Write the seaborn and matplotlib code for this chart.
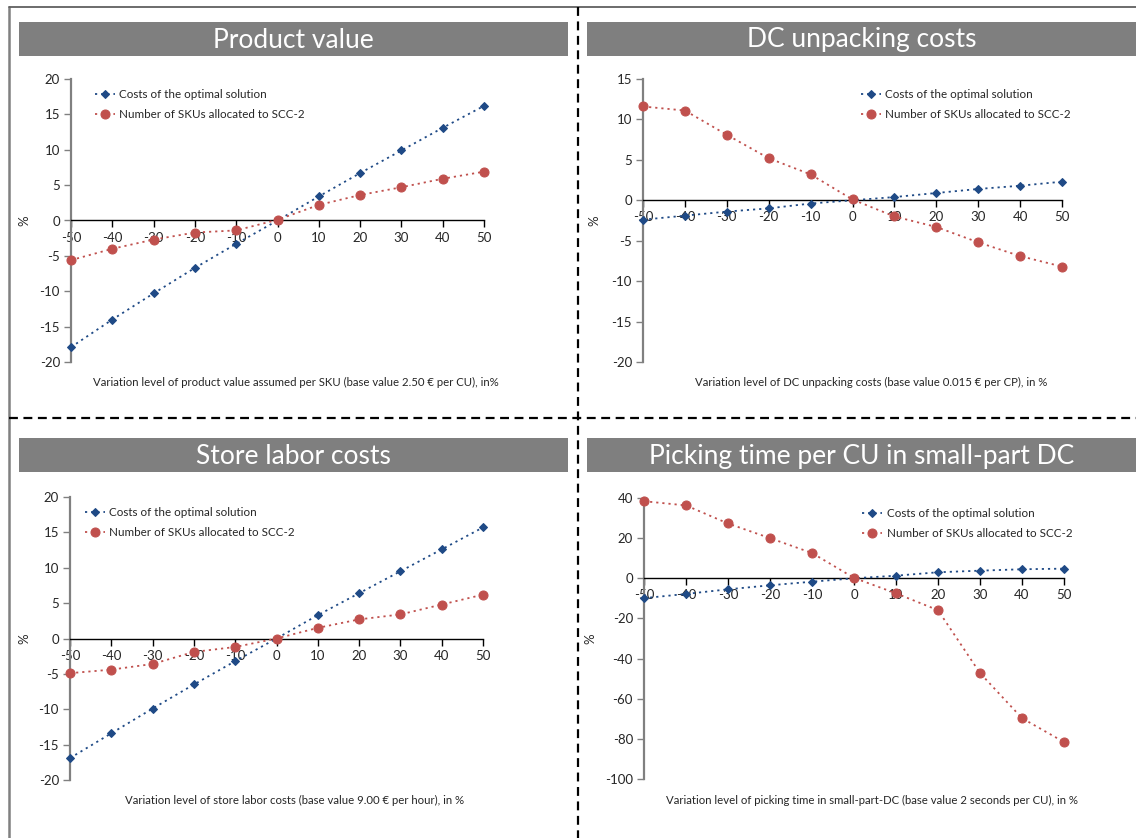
import matplotlib
matplotlib.use("Agg")
import matplotlib.pyplot as plt
import seaborn as sns
import numpy as np
from matplotlib.patches import Rectangle
from matplotlib.lines import Line2D

sns.set_style("white")
plt.rcParams['font.family'] = ['Lato', 'DejaVu Sans']
plt.rcParams['axes.unicode_minus'] = False

levels = [-50, -40, -30, -20, -10, 0, 10, 20, 30, 40, 50]

titles = ["Product value", "DC unpacking costs", "Store labor costs",
          "Picking time per CU in small-part DC"]
xlabels = [
    "Variation level of product value assumed per SKU (base value 2.50 € per CU), in%",
    "Variation level of DC unpacking costs (base value 0.015 € per CP), in %",
    "Variation level of store labor costs (base value 9.00 € per hour), in %",
    "Variation level of picking time in small-part-DC (base value 2 seconds per CU), in %",
]
series_names = ["Costs of the optimal solution", "Number of SKUs allocated to SCC-2"]

costs_product = [-17.9, -14.0, -10.3, -6.7, -3.3, 0.0, 3.4, 6.7, 9.9, 13.1, 16.2]
skus_product = [-5.6, -4.0, -2.7, -1.7, -1.4, 0.1, 2.2, 3.6, 4.7, 5.9, 6.9]

costs_unpack = [-2.4, -1.9, -1.4, -1.0, -0.4, 0.0, 0.4, 0.9, 1.4, 1.8, 2.3]
skus_unpack = [11.6, 11.1, 8.1, 5.2, 3.2, 0.1, -2.0, -3.3, -5.2, -6.9, -8.2]

costs_labor = [-16.9, -13.4, -9.9, -6.5, -3.2, 0.0, 3.3, 6.4, 9.5, 12.6, 15.7]
skus_labor = [-4.9, -4.4, -3.6, -1.9, -1.2, 0.0, 1.5, 2.7, 3.4, 4.8, 6.2]

costs_picking = [-9.9, -7.8, -5.5, -3.5, -1.7, 0.0, 1.3, 3.0, 3.8, 4.5, 4.8]
skus_picking = [38.4, 36.3, 27.3, 20.0, 12.6, 0.2, -7.5, -15.9, -47.2, -69.7, -81.6]

yticks_list = [
    list(range(-20, 21, 5)),
    list(range(-20, 16, 5)),
    list(range(-20, 21, 5)),
    list(range(-100, 41, 20)),
]

W, H = 1136, 838
fig = plt.figure(figsize=(W / 100, H / 100), dpi=100)

def fx(px):
    return px / W

def fy(py):
    return 1 - py / H

# axes boxes in pixel coords: left, right, top, bottom
boxes = [
    (71, 484, 79, 362),
    (643, 1062, 79, 362),
    (70, 483, 497, 780),
    (644, 1064, 498, 779),
]
legend_anchor = [(0.058, 0.965), (0.52, 0.965), (0.036, 0.965), (0.52, 0.965)]
xlabel_pos = [(296, 382), (871, 382), (295, 800), (872, 800)]
ylabel_x = [30, 600, 30, 596]

data = [
    (costs_product, skus_product),
    (costs_unpack, skus_unpack),
    (costs_labor, skus_labor),
    (costs_picking, skus_picking),
]

blue = "#1f4a86"
red = "#c0504d"

for i in range(4):
    l, r, t, b = boxes[i]
    ax = fig.add_axes([fx(l), fy(b), (r - l) / W, (b - t) / H])
    c, s = data[i]
    sns.lineplot(x=levels, y=c, ax=ax, color=blue, marker="D", markersize=4.5,
                 markeredgecolor=blue, linestyle=(0, (1.2, 2.2)), linewidth=1.3,
                 label=series_names[0], clip_on=False, zorder=4)
    sns.lineplot(x=levels, y=s, ax=ax, color=red, marker="o", markersize=6.5,
                 markeredgecolor=red, linestyle=(0, (1.2, 2.2)), linewidth=1.3,
                 label=series_names[1], clip_on=False, zorder=4)
    yt = yticks_list[i]
    ax.set_xlim(-50, 50)
    ax.set_ylim(yt[0], yt[-1])
    ax.set_xticks(levels)
    ax.set_xticklabels([str(v) for v in levels])
    ax.set_yticks(yt)
    ax.set_yticklabels([str(v) for v in yt])
    for side in ["top", "right"]:
        ax.spines[side].set_visible(False)
    ax.spines["bottom"].set_position(("data", 0))
    ax.spines["bottom"].set_color("black")
    ax.spines["bottom"].set_linewidth(1.0)
    ax.spines["left"].set_color("#808080")
    ax.spines["left"].set_linewidth(1.6)
    ax.tick_params(axis="x", direction="out", length=5, width=1, color="black",
                   labelsize=9.5, pad=3, bottom=True)
    ax.tick_params(axis="y", direction="out", length=5, width=1, color="#808080",
                   labelsize=9.5, pad=3, left=True)
    ax.set_ylabel("%", fontsize=9.5)
    ax.yaxis.set_label_coords((ylabel_x[i] - l) / (r - l), 0.5)
    ax.set_xlabel("")
    ax.patch.set_alpha(0)
    leg = ax.legend(loc="upper left", bbox_to_anchor=legend_anchor[i], frameon=False,
                    fontsize=8.4, handlelength=1.7, handletextpad=0.4,
                    labelspacing=0.75, borderpad=0, borderaxespad=0)
    fig.text(fx(xlabel_pos[i][0]), fy(xlabel_pos[i][1]), xlabels[i],
             ha="center", va="center", fontsize=8.2)

# title bars
bars = [(19, 568, 22, 56), (587, 1136, 22, 56), (19, 568, 438, 472), (587, 1136, 438, 472)]
for (x0, x1, y0, y1), ttl in zip(bars, titles):
    fig.patches.append(Rectangle((fx(x0), fy(y1)), (x1 - x0) / W, (y1 - y0) / H,
                                 transform=fig.transFigure, facecolor="#7f7f7f",
                                 edgecolor="none", zorder=1))
    fig.text(fx((x0 + x1) / 2), fy((y0 + y1) / 2 + 1), ttl, ha="center", va="center",
             color="white", fontsize=19, fontweight="normal", zorder=2)

# outer border and separators
fig.lines.append(Line2D([fx(8.5), fx(8.5)], [fy(7.5), 0], transform=fig.transFigure,
                        color="#808080", linewidth=1.8))
fig.lines.append(Line2D([fx(8.5), 1], [fy(7.5), fy(7.5)], transform=fig.transFigure,
                        color="#606060", linewidth=1.3))
fig.lines.append(Line2D([fx(577.5), fx(577.5)], [fy(7.5), 0], transform=fig.transFigure,
                        color="black", linewidth=1.6, linestyle=(0, (4, 2.5))))
fig.lines.append(Line2D([fx(8.5), 1], [fy(418), fy(418)], transform=fig.transFigure,
                        color="black", linewidth=1.6, linestyle=(0, (4, 2.5))))

fig.savefig("out.png", dpi=100)
